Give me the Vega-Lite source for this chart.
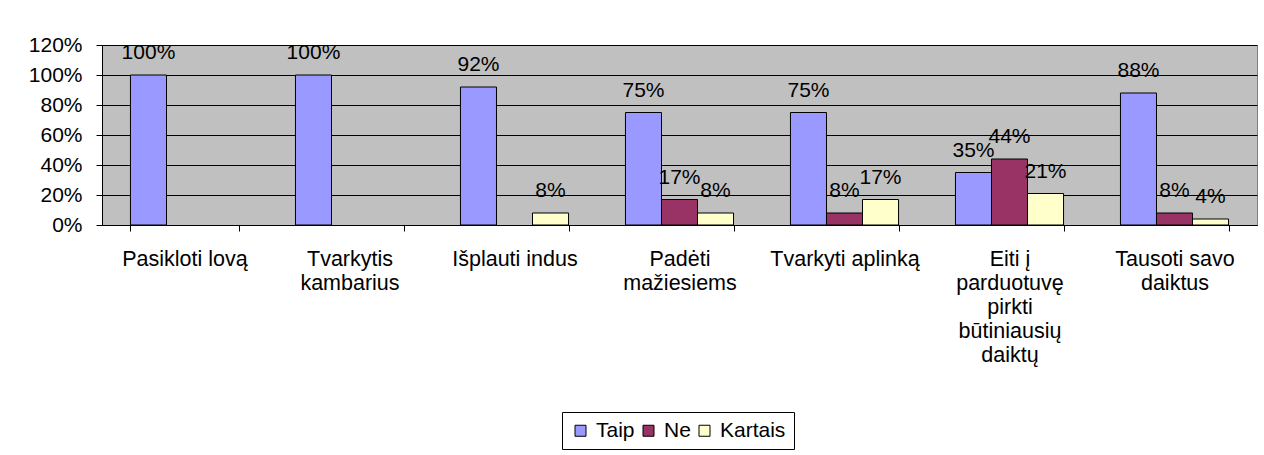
{
  "$schema": "https://vega.github.io/schema/vega-lite/v6.json",
  "width": 1155,
  "height": 180,
  "autosize": {"type": "none"},
  "padding": {"left": 102, "top": 45, "right": 7, "bottom": 230},
  "background": "white",
  "config": {
    "font": "Liberation Sans",
    "view": {"fill": "#C0C0C0", "stroke": "#808080", "strokeWidth": 1}
  },
  "data": {
    "values": [
      {"task": "Pasikloti lovą", "series": "Taip", "value": 1.0},
      {"task": "Tvarkytis|kambarius", "series": "Taip", "value": 1.0},
      {"task": "Išplauti indus", "series": "Taip", "value": 0.92},
      {"task": "Išplauti indus", "series": "Kartais", "value": 0.08},
      {"task": "Padėti|mažiesiems", "series": "Taip", "value": 0.75},
      {"task": "Padėti|mažiesiems", "series": "Ne", "value": 0.17},
      {"task": "Padėti|mažiesiems", "series": "Kartais", "value": 0.08},
      {"task": "Tvarkyti aplinką", "series": "Taip", "value": 0.75},
      {"task": "Tvarkyti aplinką", "series": "Ne", "value": 0.08},
      {"task": "Tvarkyti aplinką", "series": "Kartais", "value": 0.17},
      {"task": "Eiti į|parduotuvę|pirkti|būtiniausių|daiktų", "series": "Taip", "value": 0.35},
      {"task": "Eiti į|parduotuvę|pirkti|būtiniausių|daiktų", "series": "Ne", "value": 0.44},
      {"task": "Eiti į|parduotuvę|pirkti|būtiniausių|daiktų", "series": "Kartais", "value": 0.21},
      {"task": "Tausoti savo|daiktus", "series": "Taip", "value": 0.88},
      {"task": "Tausoti savo|daiktus", "series": "Ne", "value": 0.08},
      {"task": "Tausoti savo|daiktus", "series": "Kartais", "value": 0.04}
    ]
  },
  "encoding": {
    "x": {
      "field": "task",
      "type": "nominal",
      "sort": null,
      "scale": {"paddingInner": 0.345, "paddingOuter": 0.1725},
      "axis": {
        "title": null,
        "labelAngle": 0,
        "labelExpr": "split(datum.label, '|')",
        "labelFontSize": 21.5,
        "labelLineHeight": 24,
        "labelColor": "black",
        "labelPadding": 17,
        "labelBaseline": "top",
        "labelLimit": 300,
        "tickBand": "extent",
        "tickSize": 6,
        "tickColor": "black",
        "domainColor": "black",
        "grid": false
      }
    },
    "xOffset": {
      "field": "series",
      "type": "nominal",
      "scale": {"domain": ["Taip", "Ne", "Kartais"], "paddingInner": 0, "paddingOuter": 0}
    },
    "y": {
      "field": "value",
      "type": "quantitative",
      "scale": {"domain": [0, 1.2], "nice": false},
      "axis": {
        "title": null,
        "values": [0, 0.2, 0.4, 0.6, 0.8, 1.0, 1.2],
        "format": ".0%",
        "labelFontSize": 21,
        "labelColor": "black",
        "labelPadding": 14,
        "tickSize": 6,
        "tickColor": "black",
        "domainColor": "black",
        "grid": true,
        "gridColor": "black",
        "gridOpacity": 1,
        "gridWidth": 1
      }
    }
  },
  "layer": [
    {
      "mark": {"type": "bar", "stroke": "black", "strokeWidth": 1},
      "encoding": {
        "color": {
          "field": "series",
          "type": "nominal",
          "scale": {"domain": ["Taip", "Ne", "Kartais"], "range": ["#9999FF", "#993366", "#FFFFCC"]},
          "legend": {
            "title": null,
            "orient": "none",
            "direction": "horizontal",
            "legendX": 460,
            "legendY": 367,
            "labelFontSize": 21,
            "labelColor": "black",
            "symbolType": "square",
            "symbolSize": 121,
            "symbolStrokeColor": "black",
            "symbolStrokeWidth": 1,
            "symbolOpacity": 1,
            "strokeColor": "black",
            "fillColor": "white",
            "padding": 8,
            "columnPadding": 3,
            "labelOffset": 5
          }
        }
      }
    },
    {
      "mark": {"type": "text", "fontSize": 21, "color": "black", "dy": -16, "baseline": "alphabetic", "align": "center"},
      "encoding": {
        "text": {"field": "value", "type": "quantitative", "format": ".0%"}
      }
    }
  ]
}
